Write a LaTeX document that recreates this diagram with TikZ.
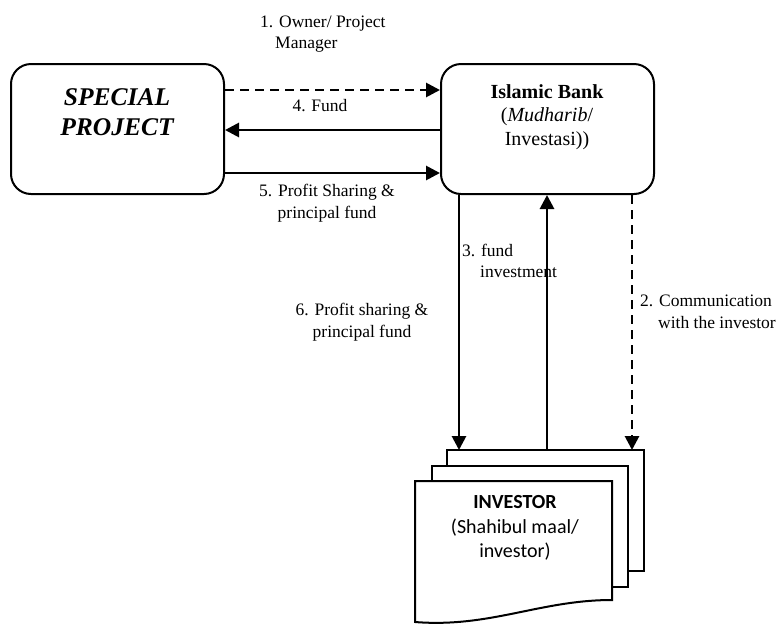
\documentclass[tikz,border=0pt]{standalone}
\usepackage{fontspec}
\setmainfont{Liberation Serif}
\newfontfamily\calibri{Carlito}
\usetikzlibrary{arrows.meta}
\begin{document}
\begin{tikzpicture}[x=1pt,y=-1pt,
  box/.style={draw,line width=2pt,rounded corners=20pt,fill=white},
  flow/.style={line width=2.8pt,-{Triangle[length=14pt,width=14pt]}},
  dflow/.style={flow,dash pattern=on 9pt off 6pt},
  lbl/.style={font=\fontsize{17.5}{21.5}\selectfont,inner sep=0pt},
  doc/.style={draw,line width=2pt,fill=white,line join=miter}]
\useasboundingbox (0,0) rectangle (780,625);
% boxes
\node[box,minimum width=213pt,minimum height=130pt,anchor=north west] (sp) at (10,63) {};
\node[font=\fontsize{25.5}{30}\selectfont\bfseries\itshape,align=center,inner sep=0pt] (spt) at (117,112) {SPECIAL\\PROJECT};
\node[box,minimum width=213pt,minimum height=130pt,anchor=north west] (ib) at (440,63) {};
\node[font=\fontsize{20}{23.5}\selectfont,align=center,inner sep=0pt] (ibt) at (547,117) {\textbf{Islamic Bank}\\(\textit{Mudharib}/\\Investasi))};
% documents
\coordinate (d3a) at (447,450);
\coordinate (d3b) at (644,450);
\coordinate (d3c) at (644,571);
\coordinate (d3d) at (628,571);
\coordinate (d3e) at (447,466);
\draw[doc] (d3e) -- (d3a) -- (d3b) -- (d3c) -- (d3d);
\coordinate (d2a) at (432,466);
\coordinate (d2b) at (628,466);
\coordinate (d2c) at (628,587);
\coordinate (d2d) at (612,587);
\coordinate (d2e) at (432,481);
\draw[doc] (d2e) -- (d2a) -- (d2b) -- (d2c) -- (d2d);
\coordinate (d1a) at (415,481);
\coordinate (d1b) at (612,481);
\coordinate (d1c) at (612,600);
\coordinate (d1d) at (415,622);
\draw[doc] (d1a) -- (d1b) -- (d1c) .. controls (540,600) and (490,628) .. (d1d) -- cycle;
\node[font=\calibri\fontsize{20}{24.5}\selectfont,align=center,inner sep=0pt] (inv) at (515,528) {\textbf{INVESTOR}\\(Shahibul maal/\\investor)};
% connectors horizontal
\draw[dflow] (sp.east |- 0,90) coordinate (a1s) -- (ib.west |- a1s);
\draw[flow] (ib.west |- 0,130) coordinate (a4s) -- (sp.east |- a4s);
\draw[flow] (sp.east |- 0,173) coordinate (a5s) -- (ib.west |- a5s);
% vertical
\draw[flow] (ib.south -| 459,0) coordinate (a6s) -- (a6s |- d3a);
\draw[flow] (d3a -| 547,0) coordinate (a3s) -- (a3s |- ib.south);
\draw[dflow] (ib.south -| 632,0) coordinate (a2s) -- (a2s |- d3a);
% labels
\node[lbl,align=left,anchor=west] (l1) at (260,34) {1. Owner/ Project\\\hspace*{15pt}Manager};
\node[lbl] (l4) at (320,106) {4. Fund};
\node[lbl,align=center] (l5) at (327,203) {5. Profit Sharing \&\\principal fund};
\node[lbl,align=center] (l6) at (362,322) {6. Profit sharing \&\\principal fund};
\node[lbl,align=left,anchor=west] (l3) at (462,261) {3. fund\\\hspace*{18pt}investment};
\node[lbl,align=left,anchor=west] (l2) at (640,312) {2. Communication\\\hspace*{18pt}with the investor};
\end{tikzpicture}
\end{document}
